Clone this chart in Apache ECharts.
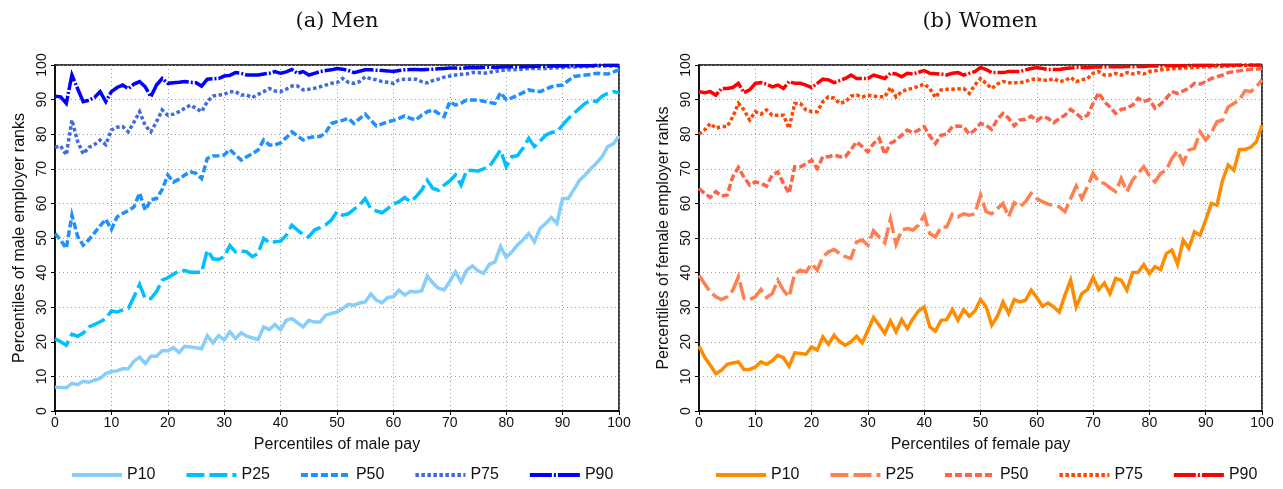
<!DOCTYPE html>
<html>
<head>
<meta charset="utf-8">
<script src="https://cdn.jsdelivr.net/npm/echarts@6/dist/echarts.min.js"></script>
<style>
  html, body { margin: 0; padding: 0; background: #ffffff; }
  #chart { width: 1283px; height: 489px; }
</style>
</head>
<body>
<div id="chart"></div>
<script>
// Percentile of pay (x) for every point in the series below
const payPercentiles = Array.from({ length: 101 }, (_, i) => i);
const axisTicks = [0, 10, 20, 30, 40, 50, 60, 70, 80, 90, 100];
const lineNames = ['P10', 'P25', 'P50', 'P75', 'P90'];

// Men: percentiles of male employer ranks
const menP10 = [6.9,6.8,6.7,8.0,7.6,8.6,8.3,8.9,9.4,10.8,11.4,11.6,12.2,12.2,14.4,15.6,13.7,15.8,15.8,17.4,17.4,18.3,16.9,18.7,18.5,18.3,18.0,21.8,19.7,21.8,20.6,22.9,20.9,22.6,21.6,21.1,20.6,24.3,23.5,25.0,23.5,26.2,26.7,25.5,24.3,26.2,25.7,25.7,27.7,28.2,28.6,29.6,30.8,30.6,31.2,31.5,33.8,32.0,31.3,32.8,33.0,34.9,33.5,34.6,34.4,34.7,39.0,37.0,35.5,35.0,37.5,40.2,37.3,40.7,41.9,40.5,39.8,42.4,43.1,47.5,44.4,46.0,48.0,49.5,51.3,48.9,52.8,54.2,55.9,54.2,61.4,61.4,64.0,66.7,68.2,70.0,71.6,73.5,76.4,77.2,79.5];
const menP25 = [20.9,20.0,19.0,22.2,21.6,22.5,24.3,25.0,25.8,26.7,28.9,28.6,29.2,29.6,33.0,36.6,32.5,32.5,34.5,37.8,38.5,39.5,40.5,40.6,40.1,40.1,40.1,46.5,44.0,43.8,44.6,47.8,46.0,46.3,46.0,44.6,45.5,49.9,48.6,48.9,49.1,50.8,53.7,52.3,51.0,50.3,52.3,53.0,53.8,55.2,57.6,56.6,57.0,58.3,59.5,61.4,58.5,57.8,57.3,58.5,59.8,60.5,61.7,60.5,61.9,63.8,66.7,64.3,63.8,65.3,66.5,68.2,65.3,69.6,69.5,69.4,70.0,70.6,73.0,75.4,70.6,73.5,73.8,76.0,78.8,76.4,78.0,79.7,80.5,80.7,82.6,84.5,86.0,87.5,88.9,89.9,89.4,91.0,91.8,92.3,92.0];
const menP50 = [51.3,49.4,47.0,56.6,50.5,47.9,49.5,51.5,53.5,55.4,52.5,56.1,57.1,57.9,59.0,63.0,58.0,61.1,61.4,64.0,68.2,66.2,67.0,68.2,69.1,68.7,67.2,73.0,73.7,73.8,74.0,75.6,74.0,72.5,73.5,74.4,75.4,78.3,76.9,76.9,77.5,79.0,80.7,79.5,78.3,79.0,79.3,79.3,80.5,83.1,83.6,84.0,84.6,83.1,84.5,85.8,84.0,82.4,83.0,83.6,84.0,84.6,85.3,84.6,84.1,85.5,86.5,87.0,86.0,85.1,89.4,88.4,89.0,89.9,89.9,89.9,89.5,89.2,88.9,92.0,90.0,90.5,91.3,92.0,92.8,92.5,92.3,93.0,93.7,94.0,94.2,95.5,96.7,96.9,97.1,97.3,97.6,97.5,97.4,98.0,98.6];
const menP75 = [76.2,76.6,74.0,84.1,78.0,74.3,76.2,77.0,78.3,77.0,81.2,82.0,82.2,80.7,83.5,86.5,82.5,80.7,83.6,87.0,85.5,85.8,86.5,87.5,88.4,87.5,86.5,89.4,91.0,91.3,91.5,92.3,92.3,91.3,91.3,90.6,91.5,92.3,93.2,92.5,92.3,93.0,93.9,93.9,92.8,93.0,93.3,93.7,94.2,94.7,94.9,96.1,95.0,94.7,95.2,96.6,96.0,95.7,95.2,95.0,94.7,95.7,95.9,95.9,95.9,95.2,94.8,95.5,95.9,96.5,96.8,97.1,97.3,97.4,97.8,97.8,97.6,97.9,98.1,98.4,98.6,98.6,98.7,98.8,99.0,99.0,99.0,99.0,99.1,99.2,99.3,99.4,99.4,99.5,99.5,99.6,99.7,99.7,99.7,99.7,99.7];
const menP90 = [91.0,90.8,88.9,97.1,93.2,89.4,89.8,90.6,92.3,89.4,92.3,93.5,94.2,93.2,94.5,95.2,93.7,90.8,94.2,96.1,94.7,94.9,95.0,95.2,95.0,94.9,93.9,95.9,96.0,96.1,96.8,97.0,97.8,97.6,97.1,97.1,97.1,97.4,97.6,98.1,97.6,98.0,98.7,97.6,98.1,97.1,97.6,98.1,98.4,98.6,99.0,98.8,98.4,97.8,98.2,98.6,98.6,98.5,98.4,98.3,98.1,98.4,98.6,98.7,98.7,98.6,98.7,98.8,98.9,99.0,99.1,99.1,99.0,99.2,99.3,99.2,99.3,99.4,99.3,99.4,99.5,99.5,99.6,99.5,99.6,99.6,99.7,99.6,99.7,99.7,99.7,99.8,99.8,99.8,99.8,99.8,99.9,99.9,99.9,99.9,99.9];

// Women: percentiles of female employer ranks
const womenP10 = [18.7,15.6,13.2,10.8,11.8,13.5,13.9,14.2,12.0,12.0,12.7,14.2,13.5,14.5,16.1,15.4,12.9,16.8,16.6,16.4,18.5,17.6,21.4,19.3,21.9,20.0,19.0,20.0,21.6,19.7,23.3,27.0,24.8,22.4,26.0,22.9,26.4,23.8,26.7,28.9,30.1,24.3,23.1,26.2,26.4,29.3,26.2,29.3,27.4,28.9,32.2,30.1,24.8,27.4,31.5,28.2,32.2,31.5,32.0,34.9,32.8,30.3,31.2,30.1,28.6,33.5,37.8,30.1,33.9,35.1,38.6,35.1,37.0,33.9,38.3,37.8,34.9,40.0,40.1,42.3,39.7,41.7,40.9,45.5,46.5,42.4,49.4,47.0,51.8,50.8,55.2,60.0,59.5,66.7,71.1,69.6,75.6,75.6,76.2,77.8,82.6];
const womenP25 = [39.2,36.8,34.4,33.0,32.2,33.0,34.9,38.8,32.5,32.2,33.0,35.1,32.8,33.9,37.8,34.9,33.0,39.7,40.7,40.2,42.6,40.7,44.6,46.0,46.7,45.5,44.6,44.1,48.9,49.4,47.9,52.1,50.3,48.6,55.5,48.2,52.3,52.7,52.3,53.7,56.6,51.3,50.3,53.2,53.2,56.9,56.1,57.0,56.6,57.0,62.4,57.6,57.0,58.5,60.0,56.1,60.2,59.0,60.5,62.9,61.4,60.5,59.8,59.4,59.0,57.6,61.4,65.0,61.4,64.8,68.7,66.2,65.8,64.5,63.4,67.2,63.4,66.7,68.7,70.6,68.0,66.2,68.7,69.6,73.0,75.2,71.6,75.4,75.9,80.7,78.3,80.4,83.6,84.1,87.9,88.9,89.9,92.6,92.3,93.7,95.7];
const womenP50 = [64.3,62.9,61.7,63.4,62.1,62.4,67.7,70.4,67.5,65.3,66.2,65.8,65.0,68.2,69.1,65.8,62.9,70.6,70.6,71.4,72.5,70.1,73.5,73.5,74.0,73.5,73.5,75.6,77.8,76.4,74.9,77.3,78.8,74.2,77.3,78.3,79.7,81.2,80.4,81.2,82.2,79.5,77.3,79.7,80.0,82.2,82.4,82.2,80.0,81.2,83.1,82.6,81.4,84.3,86.0,84.6,82.4,84.1,84.3,85.2,83.9,85.1,84.6,83.3,84.5,85.5,87.2,86.0,84.6,85.5,88.9,92.0,89.4,87.9,86.0,87.2,87.5,88.4,90.4,89.4,90.0,87.5,88.7,90.4,92.3,91.8,92.5,93.2,94.7,94.5,95.2,96.1,96.6,97.1,97.8,98.1,98.3,98.6,98.7,98.8,99.0];
const womenP75 = [80.0,81.2,83.1,81.7,82.2,82.2,85.0,88.9,87.0,84.1,86.5,85.8,87.0,85.5,85.5,85.5,81.7,88.9,88.9,87.0,86.5,86.5,89.4,90.8,90.4,88.9,89.4,91.0,91.3,90.8,91.3,91.0,90.8,90.8,93.5,90.8,92.3,93.0,93.2,93.9,94.5,93.2,90.6,92.8,93.0,93.0,93.1,93.2,91.8,94.2,96.1,94.7,93.2,94.5,95.2,94.9,94.9,94.9,95.2,95.9,95.9,95.7,95.5,96.1,95.2,95.5,96.4,95.2,95.7,96.1,97.6,98.1,97.1,97.1,97.6,97.1,97.8,97.4,97.8,97.4,98.1,98.3,98.6,98.7,98.9,99.0,99.1,99.2,99.3,99.4,99.5,99.5,99.6,99.6,99.7,99.8,99.9,99.9,100,100,100];
const womenP90 = [92.3,92.0,92.3,91.3,93.2,93.2,93.5,94.7,92.0,92.8,94.7,94.9,94.5,93.7,94.2,93.2,95.2,94.7,94.7,94.2,93.5,94.7,95.9,95.7,94.9,95.5,96.1,97.1,96.1,96.1,96.1,97.1,96.6,96.1,97.6,97.4,96.6,97.6,97.4,97.9,98.4,97.6,97.5,97.4,97.1,97.6,97.8,97.1,97.6,98.1,99.3,98.7,97.8,97.8,97.8,98.1,98.1,98.1,98.6,99.0,99.3,99.0,98.7,98.7,98.7,99.0,99.1,99.3,99.3,99.2,99.4,99.5,99.4,99.5,99.5,99.5,99.6,99.5,99.6,99.6,99.7,99.7,99.7,99.8,99.8,99.8,99.8,99.9,99.9,99.9,99.9,99.9,100,100,100,100,100,100,100,100,100];

const menValues = [menP10, menP25, menP50, menP75, menP90];
const womenValues = [womenP10, womenP25, womenP50, womenP75, womenP90];
const menColors = ['#87CEFA', '#00BFFF', '#1E90FF', '#4169E1', '#0000FF'];
const womenColors = ['#FF8C00', '#FF7F50', '#FF6347', '#FF4500', '#FF0000'];
// solid, long dash, dash, dot, dash-dot
const dashStyles = ['solid', [18, 5], [7, 3], [3.5, 2.5], [22, 2, 2, 2]];

const textFont = 'Liberation Sans, Arial, Helvetica, sans-serif';
const titleFont = 'DejaVu Serif, Liberation Serif, serif';

function makeSeries(prefix, values, colors, axisIndex) {
  return values.map((vals, k) => ({
    name: prefix + '|' + lineNames[k],
    type: 'line',
    xAxisIndex: axisIndex,
    yAxisIndex: axisIndex,
    symbol: 'none',
    smooth: false,
    animation: false,
    z: 2 + k,
    lineStyle: { color: colors[k], width: 3.5, type: dashStyles[k], cap: 'butt', join: 'miter' },
    itemStyle: { color: colors[k] },
    data: vals.map((v, i) => [payPercentiles[i], v])
  }));
}

function makeXAxis(gridIndex, label) {
  return {
    gridIndex, type: 'value', min: axisTicks[0], max: axisTicks[axisTicks.length - 1], interval: 10,
    name: label, nameLocation: 'middle', nameGap: 26,
    nameTextStyle: { fontFamily: textFont, fontSize: 16, color: '#111' },
    axisLine: { show: true, onZero: false, lineStyle: { color: '#000', width: 1.5 } },
    axisTick: { show: true, length: 4, lineStyle: { color: '#000' } },
    axisLabel: { fontFamily: textFont, fontSize: 14, color: '#111', margin: 5 },
    splitLine: { show: true, lineStyle: { color: '#999', type: [1, 3], width: 1 } }
  };
}

function makeYAxis(gridIndex, label) {
  return {
    gridIndex, type: 'value', min: axisTicks[0], max: axisTicks[axisTicks.length - 1], interval: 10,
    name: label, nameLocation: 'middle', nameGap: 27, nameRotate: 90,
    nameTextStyle: { fontFamily: textFont, fontSize: 16, color: '#111' },
    axisLine: { show: true, onZero: false, lineStyle: { color: '#000', width: 1.5 } },
    axisTick: { show: true, length: 4, lineStyle: { color: '#000' } },
    axisLabel: { fontFamily: textFont, fontSize: 14, color: '#111', rotate: 90, margin: 6 },
    splitLine: { show: true, lineStyle: { color: '#999', type: [1, 3], width: 1 } }
  };
}

function makeLegend(prefix, left) {
  return {
    left, top: 467, orient: 'horizontal', padding: 0,
    itemWidth: 50, itemHeight: 10, itemGap: 29,
    itemStyle: { opacity: 0 },
    lineStyle: { width: 4 },
    textStyle: { fontFamily: textFont, fontSize: 16, color: '#111' },
    formatter: (name) => name.split('|')[1],
    data: lineNames.map(n => prefix + '|' + n),
    selectedMode: false
  };
}

const chart = echarts.init(document.getElementById('chart'), null, { renderer: 'canvas' });
chart.setOption({
  backgroundColor: '#ffffff',
  animation: false,
  title: [
    { text: '(a) Men', left: 332, top: 6, textAlign: 'center',
      textStyle: { fontFamily: titleFont, fontWeight: 'normal', fontSize: 21, color: '#111' } },
    { text: '(b) Women', left: 975, top: 6, textAlign: 'center',
      textStyle: { fontFamily: titleFont, fontWeight: 'normal', fontSize: 21, color: '#111' } }
  ],
  grid: [
    { left: 55, right: 664, top: 65, bottom: 78, show: true, borderColor: '#000', borderWidth: 1.5, backgroundColor: 'transparent' },
    { left: 699, right: 21, top: 65, bottom: 78, show: true, borderColor: '#000', borderWidth: 1.5, backgroundColor: 'transparent' }
  ],
  xAxis: [makeXAxis(0, 'Percentiles of male pay'), makeXAxis(1, 'Percentiles of female pay')],
  yAxis: [makeYAxis(0, 'Percentiles of male employer ranks'), makeYAxis(1, 'Percentiles of female employer ranks')],
  legend: [makeLegend('Men', 70), makeLegend('Women', 714)],
  series: [].concat(makeSeries('Men', menValues, menColors, 0), makeSeries('Women', womenValues, womenColors, 1))
});
</script>
</body>
</html>
